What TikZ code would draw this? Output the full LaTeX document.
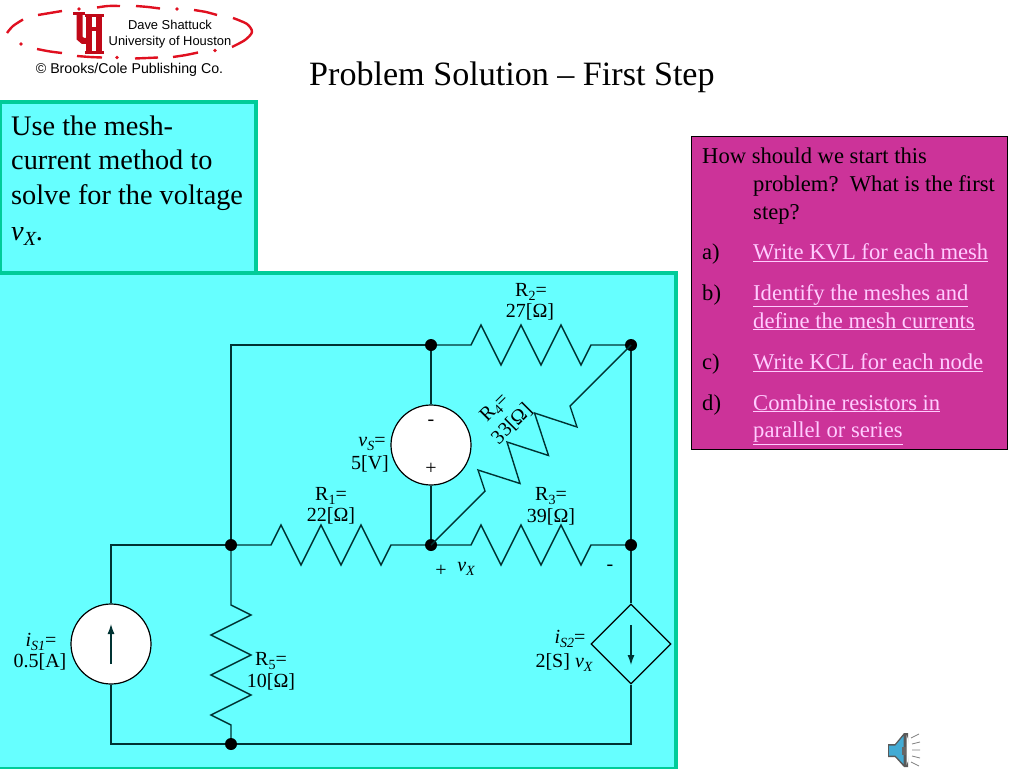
\documentclass[tikz,border=0pt]{standalone}
\usepackage{fontspec}
\setmainfont{Liberation Serif}
\newfontfamily\logofont{Liberation Sans}
\usetikzlibrary{shapes.geometric,arrows.meta}
\definecolor{panelcyan}{HTML}{66FFFF}
\definecolor{panelteal}{HTML}{00CC99}
\definecolor{purplebox}{HTML}{CC3399}
\definecolor{linkpink}{HTML}{FFCCFF}
\definecolor{wirecol}{HTML}{003333}
\definecolor{logored}{HTML}{E01020}
\definecolor{uhred}{HTML}{C00818}
\newcommand{\subs}[1]{\raisebox{-4pt}{\fontsize{14}{14}\selectfont #1}}
\newcommand{\subi}[1]{\raisebox{-4pt}{\fontsize{14}{14}\selectfont\itshape #1}}
\newcommand{\lnk}[1]{\underline{#1}}
\tikzset{
  wire/.style={draw=wirecol,line width=1.4pt,line join=miter},
  dot/.style={circle,fill=black,draw=none,minimum size=12pt,inner sep=0pt},
  srcnode/.style={circle,fill=white,draw=black,line width=1.2pt,minimum size=80pt,inner sep=0pt},
  depnode/.style={diamond,aspect=1,fill=panelcyan,draw=black,line width=1.2pt,minimum size=80pt,inner sep=0pt},
  lab/.style={anchor=base,inner sep=0pt,text=black,font=\fontsize{20}{23}\selectfont},
  big/.style={anchor=base west,inner sep=0pt,font=\fontsize{28.3}{32}\selectfont},
  side/.style={anchor=base west,inner sep=0pt,font=\fontsize{22.6}{26}\selectfont},
  sidelink/.style={side,text=linkpink},
  logotext/.style={anchor=base,inner sep=0pt,font=\logofont\fontsize{12.9}{14}\selectfont},
  logocopy/.style={anchor=base,inner sep=0pt,font=\logofont\fontsize{14.2}{16}\selectfont},
  logodash/.style={draw=logored,line width=2.4pt},
  logodot/.style={circle,fill=logored,minimum size=3.6pt,inner sep=0pt},
  uhstem/.style={draw=uhred,line width=6pt},
  uhserif/.style={draw=uhred,line width=3pt},
  panel/.style={draw=panelteal,fill=panelcyan,line width=4pt},
  arrowln/.style={draw=wirecol,line width=1.2pt,-{Latex[length=10pt,width=7pt]}}
}
\begin{document}
\begin{tikzpicture}[x=1pt,y=-1pt]
\useasboundingbox (0,0) rectangle (1024,768);
\fill[white] (0,0) rectangle (1024,768);

% logo
\foreach \pts in {
 {(7,33) (13,26) (23,19.5)},
 {(38,15) (50,13) (62,11)},
 {(97,7.5) (108,6) (120,6)},
 {(136,6) (148,7) (160,8.5)},
 {(194,10) (206,12) (217,15)},
 {(233,18) (247,24) (252,32) (245,40) (232,47)},
 {(198,52.5) (186,55) (173,57)},
 {(158,57.5) (147,58) (135,58.5)},
 {(102,57.5) (90,57) (77,56)},
 {(62,53) (50,51.5) (37,49)}}
 {\draw[logodash] plot[smooth] coordinates \pts;}
\node[logodot] (ld1) at (79,9) {};
\node[logodot] (ld2) at (177,9) {};
\node[logodot] (ld3) at (215,50.5) {};
\node[logodot] (ld4) at (117,57.5) {};
\node[logodot] (ld5) at (21,44) {};
% UH mark
\draw[uhstem] (79.5,14) -- (79.5,38) -- (83,41) -- (89,41);
\draw[uhstem] (89,15) -- (89,52);
\draw[uhstem] (99,15) -- (99,52);
\draw[uhserif,line width=4pt] (86,29) -- (102,29);
\draw[uhserif] (73,14) -- (85,14);
\draw[uhserif] (85,15.5) -- (104,15.5);
\draw[uhserif] (85,52.5) -- (104,52.5);
\node[logotext] (l1) at (170,30) {Dave Shattuck};
\node[logotext] (l2) at (170,45.5) {University of Houston};
\node[logocopy] (l3) at (129.5,74) {© Brooks/Cole Publishing Co.};

% title
\node[anchor=base west,inner sep=0pt,font=\fontsize{34.1}{38}\selectfont] (title) at (309,85) {Problem Solution – First Step};

% panels
\draw[panel] (-3,272.5) rectangle (675.5,769);
\draw[panel] (0,102) rectangle (256,272.5);
\node[big] (p1) at (11,135) {Use the mesh-};
\node[big] (p2) at (11,169) {current method to};
\node[big] (p3) at (11,204) {solve for the voltage};
\node[big] (p4) at (11,240) {\textit{v}\raisebox{-5pt}{\fontsize{20}{20}\selectfont\itshape X}.};

% side box
\draw[draw=black,fill=purplebox,line width=0.8pt] (691.5,136.5) rectangle (1007,449);
\node[side] (q1) at (702,163.5) {How should we start this};
\node[side] (q2) at (753,191.5) {problem?\ \ What is the first};
\node[side] (q3) at (753,219) {step?};
\node[side] (ma) at (702,259.5) {a)};
\node[sidelink] (a1) at (753,259.5) {\lnk{Write KVL for each mesh}};
\node[side] (mb) at (702,300) {b)};
\node[sidelink] (b1) at (753,300) {\lnk{Identify the meshes and}};
\node[sidelink] (b2) at (753,328) {\lnk{define the mesh currents}};
\node[side] (mc) at (702,369) {c)};
\node[sidelink] (c1) at (753,369) {\lnk{Write KCL for each node}};
\node[side] (md) at (702,410) {d)};
\node[sidelink] (d1) at (753,410) {\lnk{Combine resistors in}};
\node[sidelink] (d2) at (753,437.5) {\lnk{parallel or series}};

% circuit nodes
\node[dot] (B) at (431,345) {};
\node[dot] (C) at (631,345) {};
\node[dot] (D) at (231,545) {};
\node[dot] (E) at (431,545) {};
\node[dot] (F) at (631,545) {};
\node[dot] (G) at (231,744) {};
\coordinate (A) at (231,345);
\coordinate (LT) at (111,545);
\coordinate (LB) at (111,744);
\coordinate (RB) at (631,744);
\node[srcnode] (VS) at (431,445) {};
\node[srcnode] (IS1) at (111,644) {};
\node[depnode] (IS2) at (631,644) {};
\coordinate (A1t) at (111,664); \coordinate (A1h) at (111,624);
\coordinate (A2t) at (631,625); \coordinate (A2h) at (631,665);

% wires
\draw[wire] (IS1) -- (LT) -- (D);
\draw[wire] (IS1) -- (LB) -- (G) -- (RB) -- (IS2);
\draw[wire] (D) -- (A) -- (B);
\draw[wire] (B) -- (VS) -- (E);
\draw[wire] (C) -- (F) -- (IS2);
% R2
\draw[wire] (B) -- ++(40,0) -- ++(10,-20) -- ++(20,40) -- ++(20,-40) -- ++(20,40) -- ++(20,-40) -- ++(20,40) -- ++(10,-20) -- (C);
% R3
\draw[wire] (E) -- ++(40,0) -- ++(10,-20) -- ++(20,40) -- ++(20,-40) -- ++(20,40) -- ++(20,-40) -- ++(20,40) -- ++(10,-20) -- (F);
% R1
\draw[wire] (D) -- ++(40,0) -- ++(10,-20) -- ++(20,40) -- ++(20,-40) -- ++(20,40) -- ++(20,-40) -- ++(20,40) -- ++(10,-20) -- (E);
% R5
\draw[wire] (D) -- ++(0,60) -- ++(20,10) -- ++(-40,20) -- ++(40,20) -- ++(-40,20) -- ++(40,20) -- ++(-40,20) -- ++(20,10) -- (G);
% R4
\draw[wire] (E.center) -- (485,491) -- (478,470) -- (520,483.5) -- (507,442) -- (548.5,455.5) -- (534.5,413) -- (577,427) -- (570,406) -- (C.center);

% arrows inside sources
\draw[arrowln] (A1t) -- (A1h);
\draw[arrowln] (A2t) -- (A2h);

% labels
\node[lab] (lR2a) at (531,296) {R\subs{2}=};
\node[lab] (lR2b) at (530,317) {27[Ω]};
\node[lab] (lR1a) at (331,500) {R\subs{1}=};
\node[lab] (lR1b) at (331,521) {22[Ω]};
\node[lab] (lR3a) at (551,500) {R\subs{3}=};
\node[lab] (lR3b) at (551,522) {39[Ω]};
\node[lab] (lVSa) at (372,446) {\textit{v}\subi{S}=};
\node[lab] (lVSb) at (370,469) {5[V]};
\node[lab] (lVSm) at (431,425) {-};
\node[lab] (lVSp) at (431,474) {+};
\node[lab] (lS1a) at (41,646) {\textit{i}\subi{S1}=};
\node[lab] (lS1b) at (40,667) {0.5[A]};
\node[lab] (lR5a) at (271,665) {R\subs{5}=};
\node[lab] (lR5b) at (271,687) {10[Ω]};
\node[lab] (lS2a) at (570,643) {\textit{i}\subi{S2}=};
\node[lab] (lS2b) at (564,667) {2[S] \textit{v}\subi{X}};
\node[lab] (lvp) at (441,576) {+};
\node[lab] (lvx) at (466,571) {\textit{v}\subi{X}};
\node[lab] (lvm) at (610,570) {-};
\node[lab,anchor=center,rotate=45] (lR4a) at (495,408) {R\subs{4}=};
\node[lab,anchor=center,rotate=45] (lR4b) at (512,424) {33[Ω]};

% speaker
\fill[black!65] (888,744) -- (895,744) -- (904,733) -- (908,733) -- (908,767) -- (904,767) -- (895,757) -- (888,757) -- cycle;
\fill[cyan!70!gray] (889,745.5) -- (895.5,745.5) -- (903.5,736) -- (903.5,764) -- (895.5,755.5) -- (889,755.5) -- cycle;
\fill[black!60] (902,746.5) rectangle (906,755);
\fill[white] (906.5,735) .. controls (910,742) and (910,758) .. (906.5,765) -- cycle;
\draw[gray,line width=0.8pt] (911,738) -- (919,734) (912,744) -- (920,742) (912,750) -- (920,750) (912,756) -- (920,758) (911,762) -- (919,766);
\end{tikzpicture}
\end{document}
